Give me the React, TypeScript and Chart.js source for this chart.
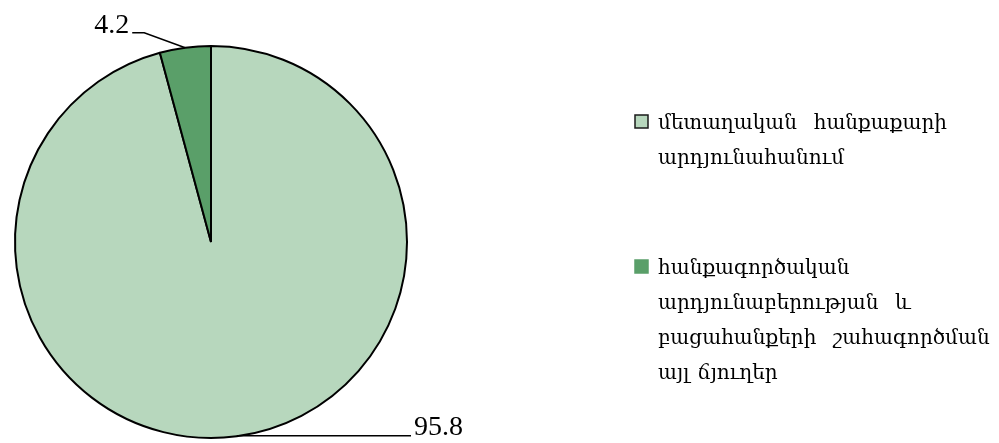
import React, { useEffect, useRef } from "react";
import { Chart, registerables } from "chart.js";

Chart.register(...registerables);

// ---- data ----
const categories: string[][] = [
  ["մետաղական  հանքաքարի", "արդյունահանում"],
  ["հանքագործական", "արդյունաբերության  և", "բացահանքերի  շահագործման", "այլ ճյուղեր"],
];
const values: number[] = [95.8, 4.2];
const valueLabels: string[] = ["95.8", "4.2"];

// ---- styles ----
const COLORS = ["#b7d7bd", "#5a9f69"];
const LEGEND_BORDER = ["#1a1a1a", "#5a9f69"];
const LABEL_FONT = '28px "Liberation Serif", "DejaVu Serif", serif';
const LEGEND_FONT = '20px "DejaVu Serif", "Noto Serif", serif';

const labelPlugin = {
  id: "leaderLabels",
  afterDatasetsDraw(chart: any) {
    const ctx = chart.ctx as CanvasRenderingContext2D;
    const meta = chart.getDatasetMeta(0);
    ctx.save();
    ctx.font = LABEL_FONT;
    ctx.fillStyle = "#000";
    ctx.strokeStyle = "#000";
    ctx.lineWidth = 1.5;
    meta.data.forEach((arc: any, i: number) => {
      const { x, y, startAngle, endAngle, outerRadius } = arc.getProps(
        ["x", "y", "startAngle", "endAngle", "outerRadius"],
        true
      );
      const mid = (startAngle + endAngle) / 2;
      const px = x + Math.cos(mid) * outerRadius;
      const py = y + Math.sin(mid) * outerRadius;
      ctx.beginPath();
      if (i === 0) {
        const ex = x + outerRadius + 4;
        ctx.moveTo(px, py - 0.5);
        ctx.lineTo(ex, py - 0.5);
        ctx.stroke();
        ctx.textAlign = "left";
        ctx.textBaseline = "alphabetic";
        ctx.fillText(valueLabels[i], ex + 3, py - 1);
      } else {
        const bx = px - 41;
        const by = py - 15;
        const ex = bx - 12;
        ctx.moveTo(px, py);
        ctx.lineTo(bx, by);
        ctx.lineTo(ex, by);
        ctx.stroke();
        ctx.textAlign = "right";
        ctx.textBaseline = "alphabetic";
        ctx.fillText(valueLabels[i], ex - 3, by);
      }
    });
    ctx.restore();
  },
};

const legendPlugin = {
  id: "sideLegend",
  afterDraw(chart: any) {
    const ctx = chart.ctx as CanvasRenderingContext2D;
    const labels = chart.data.labels as string[][];
    const colors = chart.data.datasets[0].backgroundColor as string[];
    const tops = [115, 260];
    const lineH = 35;
    const boxX = 635;
    const textX = 658;
    ctx.save();
    ctx.font = LEGEND_FONT;
    (ctx as any).letterSpacing = "0px";
    (ctx as any).wordSpacing = "2px";
    ctx.fillStyle = "#000";
    ctx.textAlign = "left";
    ctx.textBaseline = "alphabetic";
    labels.forEach((lines, i) => {
      const top = tops[i];
      ctx.fillStyle = colors[i];
      ctx.fillRect(boxX, top, 13, 13);
      ctx.strokeStyle = LEGEND_BORDER[i];
      ctx.lineWidth = 1.5;
      ctx.strokeRect(boxX, top, 13, 13);
      ctx.fillStyle = "#000";
      lines.forEach((line, j) => {
        ctx.fillText(line, textX, top + 14 + j * lineH);
      });
    });
    ctx.restore();
  },
};

export default function App() {
  const ref = useRef<HTMLCanvasElement>(null);
  useEffect(() => {
    document.body.style.margin = "0";
    const chart = new Chart(ref.current!, {
      type: "pie",
      data: {
        labels: categories as any,
        datasets: [
          {
            data: values,
            backgroundColor: COLORS,
            borderColor: "#000",
            borderWidth: 2,
          },
        ],
      },
      options: {
        animation: false,
        responsive: false,
        layout: { padding: { left: 14, right: 591, top: 45, bottom: 4 } },
        plugins: {
          legend: { display: false },
          tooltip: { enabled: false },
        },
      },
      plugins: [labelPlugin, legendPlugin],
    });
    return () => chart.destroy();
  }, []);
  return (
    <div style={{ width: 999, height: 443, background: "#fff" }}>
      <canvas ref={ref} width={999} height={443} />
    </div>
  );
}
